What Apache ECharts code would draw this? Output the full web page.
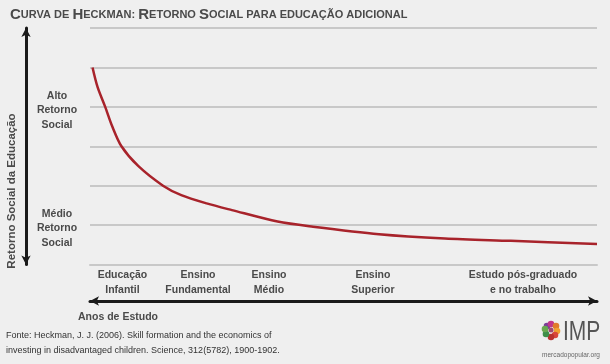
<!DOCTYPE html>
<html><head><meta charset="utf-8">
<script src="https://cdn.jsdelivr.net/npm/echarts@6/dist/echarts.min.js"></script>
<style>html,body{margin:0;padding:0;background:#efefef}#c{width:610px;height:364px}</style>
</head><body><div id="c"></div>
<script>
var curveX = [0.5, 1.5, 3, 4.4, 6.2, 9.5, 14.4, 18, 23, 28, 37, 44, 57, 70, 83, 100];
var curveY = [5.0, 4.5, 4.0, 3.5, 3.0, 2.5, 2.0, 1.76, 1.55, 1.38, 1.09, 0.96, 0.77, 0.66, 0.6, 0.52];
var stageNames = ['Educação\nInfantil', 'Ensino\nFundamental', 'Ensino\nMédio', 'Ensino\nSuperior', 'Estudo pós-graduado\ne no trabalho'];
var stageX = [6.4, 21.3, 35.3, 55.8, 85.4];
var stageLabelY = -0.46;
var yLabelValues = [4, 1];
var yLabelTexts = ['Alto\nRetorno\nSocial', 'Médio\nRetorno\nSocial'];

var FONT = '"Liberation Sans", Arial, sans-serif';
var TXT = '#4a4a4a';

var petals = [
  ['#7b3f98', -4, -4], ['#c2378a', 0, -6], ['#e07b2c', 5, -4], ['#f0a030', 6, 1],
  ['#d8463a', 4, 5], ['#b8322e', 0, 7], ['#3f8f4a', -5, 4], ['#6aa84f', -6, -1]
];
var logo = petals.map(function (p) {
  return {type: 'circle', shape: {cx: 551 + p[1], cy: 330 + p[2], r: 3.3}, style: {fill: p[0]}};
});
logo.push({type: 'circle', shape: {cx: 551, cy: 330, r: 2.5}, style: {fill: '#a04a70'}});

var chart = echarts.init(document.getElementById('c'));
chart.setOption({
  backgroundColor: '#efefef',
  animation: false,
  title: {
    left: 5, top: 2,
    text: '{b|C}{s|URVA DE }{b|H}{s|ECKMAN: }{b|R}{s|ETORNO }{b|S}{s|OCIAL PARA EDUCAÇÃO ADICIONAL}',
    textStyle: {
      rich: {
        b: {fontFamily: FONT, fontSize: 15, fontWeight: 'bold', color: TXT},
        s: {fontFamily: FONT, fontSize: 11, fontWeight: 'bold', color: TXT}
      }
    }
  },
  grid: {left: 90, right: 13, top: 28, bottom: 99.5},
  xAxis: [{
    type: 'value', min: 0, max: 100,
    axisLine: {show: true, onZero: false, lineStyle: {color: '#c8c8c8', width: 2}},
    axisTick: {show: false}, axisLabel: {show: false}, splitLine: {show: false}
  }, {
    type: 'value', min: 0, max: 100, position: 'bottom', offset: 36.5,
    axisLine: {show: true, onZero: false, symbol: ['arrow', 'arrow'], symbolSize: [7, 9], lineStyle: {color: '#1a1a1a', width: 3}},
    axisTick: {show: false}, axisLabel: {show: false}, splitLine: {show: false}
  }],
  yAxis: [{
    type: 'value', min: 0, max: 6, interval: 1,
    axisLine: {show: false, onZero: false}, axisTick: {show: false},
    splitLine: {show: true, lineStyle: {color: '#c8c8c8', width: 2}},
    axisLabel: {
      show: true, margin: 33, align: 'center', verticalAlign: 'middle',
      fontFamily: FONT, fontSize: 10.5, fontWeight: 'bold', color: TXT, lineHeight: 14.5,
      rich: {sp: {lineHeight: 7, fontSize: 1}},
      formatter: function (v) { var i = yLabelValues.indexOf(v); return i >= 0 ? '{sp| }\n' + yLabelTexts[i] : ''; }
    }
  }, {
    type: 'value', min: 0, max: 6, position: 'left', offset: 64,
    axisLine: {show: true, onZero: false, symbol: ['arrow', 'arrow'], symbolSize: [7, 9], lineStyle: {color: '#1a1a1a', width: 3}},
    axisTick: {show: false}, axisLabel: {show: false}, splitLine: {show: false}
  }],
  series: [{
    type: 'line', xAxisIndex: 0, yAxisIndex: 0,
    data: curveX.map(function (x, i) { return [x, curveY[i]]; }),
    smooth: 0.3, showSymbol: false,
    lineStyle: {color: '#a8232b', width: 2.5}
  }]
});

var graphics = [
  {type: 'text', x: 12, y: 191, rotation: Math.PI / 2,
   style: {text: 'Retorno Social da Educação', font: 'bold 11.5px ' + FONT, fill: TXT, textAlign: 'center', textVerticalAlign: 'middle'}},
  {type: 'text', x: 118, y: 317,
   style: {text: 'Anos de Estudo', font: 'bold 10.5px ' + FONT, fill: TXT, textAlign: 'center', textVerticalAlign: 'middle'}},
  {type: 'text', x: 6, y: 336,
   style: {text: 'Fonte: Heckman, J. J. (2006). Skill formation and the economics of', font: '9px ' + FONT, fill: '#333', textVerticalAlign: 'middle'}},
  {type: 'text', x: 6, y: 351,
   style: {text: 'investing in disadvantaged children. Science, 312(5782), 1900-1902.', font: '9px ' + FONT, fill: '#333', textVerticalAlign: 'middle'}},
  {type: 'text', x: 563, y: 332, scaleY: 1.3,
   style: {text: 'IMP', font: '21px ' + FONT, fill: '#555', textVerticalAlign: 'middle'}},
  {type: 'text', x: 571, y: 355,
   style: {text: 'mercadopopular.org', font: '6.5px ' + FONT, fill: '#666', textAlign: 'center', textVerticalAlign: 'middle'}}
].concat(logo);

stageX.forEach(function (x, i) {
  var p = chart.convertToPixel({xAxisIndex: 0, yAxisIndex: 0}, [x, stageLabelY]);
  graphics.push({type: 'text', x: p[0], y: p[1],
    style: {text: stageNames[i], font: 'bold 10.5px ' + FONT, fill: TXT, textAlign: 'center', textVerticalAlign: 'middle', lineHeight: 14.5}});
});
chart.setOption({graphic: graphics});
</script></body></html>
